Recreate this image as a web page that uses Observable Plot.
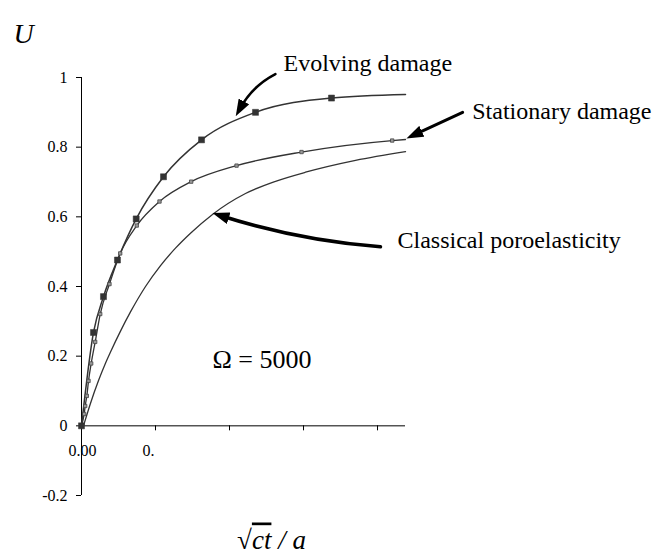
<!DOCTYPE html>
<html><head><meta charset="utf-8">
<script src="https://cdn.jsdelivr.net/npm/d3@7"></script>
<script src="https://cdn.jsdelivr.net/npm/@observablehq/plot@0.6"></script>
<style>
body{margin:0;background:#fff;}
#chart{width:662px;height:554px;}
</style></head><body><div id="chart"></div>
<script>
// ---- data (x = sqrt(ct)/a in tick units, U) ----
const evolvingX = [0, 0.162, 0.297, 0.486, 0.739, 1.108, 1.622, 2.351, 3.378, 4.378];
const evolvingU = [0, 0.268, 0.371, 0.476, 0.594, 0.715, 0.821, 0.900, 0.941, 0.951];
const stationaryX = [0, 0.036, 0.050, 0.072, 0.095, 0.131, 0.185, 0.253, 0.378, 0.523, 0.747, 1.054, 1.482, 2.095, 2.973, 4.198, 4.378];
const stationaryU = [0, 0.034, 0.057, 0.086, 0.129, 0.179, 0.241, 0.321, 0.407, 0.495, 0.575, 0.644, 0.701, 0.747, 0.786, 0.819, 0.822];
const classicalX = [0.027, 0.122, 0.230, 0.324, 0.392, 0.527, 0.662, 0.865, 1.068, 1.270, 1.473, 1.770, 2.216, 2.622, 3.027, 3.703, 4.378];
const classicalU = [0, 0.065, 0.130, 0.180, 0.212, 0.272, 0.327, 0.400, 0.460, 0.510, 0.553, 0.607, 0.667, 0.702, 0.728, 0.762, 0.787];

const xTicks = [0, 1, 2, 3, 4];
const xTickLabels = ["0.00", "0.", "", "", ""];
const yTicks = [-0.2, 0, 0.2, 0.4, 0.6, 0.8, 1];
const yTickLabels = ["-0.2", "0", "0.2", "0.4", "0.6", "0.8", "1"];
const xDomain = [0, 4.378];
const yDomain = [-0.2, 1];

const labelText = ["Evolving damage", "Stationary damage", "Classical poroelasticity"];
const labelX = [2.73, 5.28, 4.27];
const labelU = [1.04, 0.902, 0.532];
const omegaSymbol = "\u03A9";
const omegaValue = "= 5000";
const omegaX = [1.77];
const omegaU = [0.19];

const arrowX1 = [2.62, 5.15, 4.04];
const arrowU1 = [1.01, 0.90, 0.514];
const arrowX2 = [2.09, 4.39, 1.77];
const arrowU2 = [0.888, 0.825, 0.611];
const arrowBend = [-20, 0, 7];

// ---- tables ----
const toRows = (X, U) => X.map((x, i) => ({x, u: U[i]}));
const evolving = toRows(evolvingX, evolvingU);
const stationary = toRows(stationaryX, stationaryU);
const classical = toRows(classicalX, classicalU);
const labels = labelText.map((t, i) => ({t, x: labelX[i], u: labelU[i]}));
const omegaLabel = omegaSymbol + " " + omegaValue;
const omega = [{t: omegaLabel, x: omegaX[0], u: omegaU[0]}];
const arrows = arrowX1.map((x1, i) => ({x1, y1: arrowU1[i], x2: arrowX2[i], y2: arrowU2[i]}));

const ink = "#333";
const font = "'Liberation Serif', 'Times New Roman', serif";

const plot = Plot.plot({
  width: 662, height: 554,
  marginLeft: 81, marginRight: 257, marginTop: 77, marginBottom: 59,
  x: {domain: xDomain, axis: null},
  y: {domain: yDomain, axis: null},
  style: {fontFamily: font, fontSize: "16px", background: "white", color: "black", overflow: "visible"},
  marks: [
    Plot.ruleX([0], {y1: yDomain[0], y2: yDomain[1], stroke: "black", strokeWidth: 1}),
    Plot.ruleY([0], {x1: xDomain[0], x2: xDomain[1], stroke: "black", strokeWidth: 1}),
    Plot.ruleX(xTicks, {y1: 0, y2: 0, insetBottom: -5, stroke: "black", strokeWidth: 1}),
    Plot.text(xTicks, {x: d => d, y: 0, text: d => xTickLabels[xTicks.indexOf(d)], textAnchor: "start", dx: -13, dy: 25, fontSize: 16, fill: "black", fontFamily: font}),
    Plot.axisY({ticks: yTicks, tickFormat: d => yTickLabels[yTicks.indexOf(d)], tickSize: 5, tickPadding: 9, fontSize: 16, label: null, fontFamily: font}),
    Plot.line(classical, {x: "x", y: "u", stroke: ink, strokeWidth: 1.3, curve: "monotone-x"}),
    Plot.line(stationary, {x: "x", y: "u", stroke: ink, strokeWidth: 1.3, curve: "monotone-x"}),
    Plot.line(evolving, {x: "x", y: "u", stroke: ink, strokeWidth: 1.5, curve: "monotone-x"}),
    Plot.dot(stationary.slice(0, -1), {x: "x", y: "u", symbol: "square", r: 1.9, fill: "#999", stroke: "#444", strokeWidth: 0.8}),
    Plot.dot(evolving.slice(0, -1), {x: "x", y: "u", symbol: "square", r: 3.4, fill: ink, stroke: ink, strokeWidth: 0.5}),
    Plot.arrow([arrows[0]], {x1: "x1", y1: "y1", x2: "x2", y2: "y2", bend: arrowBend[0], stroke: "black", strokeWidth: 2.5, headLength: 0, insetEnd: 9}),
    Plot.arrow([arrows[1]], {x1: "x1", y1: "y1", x2: "x2", y2: "y2", bend: arrowBend[1], stroke: "black", strokeWidth: 3, headLength: 0, insetEnd: 9}),
    Plot.arrow([arrows[2]], {x1: "x1", y1: "y1", x2: "x2", y2: "y2", bend: arrowBend[2], stroke: "black", strokeWidth: 3.5, headLength: 0, insetEnd: 9}),
    Plot.text(labels, {x: "x", y: "u", text: "t", textAnchor: "start", fontSize: 24, fill: "black", fontFamily: font}),
    Plot.text(omega, {x: "x", y: "u", text: "t", textAnchor: "start", fontSize: 26, fill: "black", fontFamily: font}),
    Plot.text(["U"], {frameAnchor: "top-left", dx: -68, dy: -54, textAnchor: "start", fontSize: 28, fontStyle: "italic", fill: "black", fontFamily: font}),
    Plot.text(["√ct / a"], {frameAnchor: "bottom", dx: 28, dy: 53, lineAnchor: "bottom", fontSize: 27, fontStyle: "italic", fill: "black", fontFamily: font})
  ]
});

// filled arrowheads
const svg = d3.select(plot);
svg.append("defs").append("marker")
  .attr("id", "ahead").attr("viewBox", "0 0 17 12")
  .attr("refX", 8).attr("refY", 6)
  .attr("markerWidth", 17).attr("markerHeight", 12)
  .attr("markerUnits", "userSpaceOnUse").attr("orient", "auto")
  .append("path").attr("d", "M0,0L17,6L0,12Z").attr("fill", "black").attr("stroke", "none");
svg.selectAll('g[aria-label="arrow"] path').each(function() {
  const p = d3.select(this);
  const d = p.attr("d") || "";
  const k = d.indexOf("M", 1);
  p.attr("d", k > 0 ? d.slice(0, k) : d).attr("marker-end", "url(#ahead)").attr("fill", "none");
});
// radical overline on x label
svg.selectAll("text").filter(function() { return this.textContent === "√ct / a"; }).each(function() {
  const t = d3.select(this);
  t.text("");
  t.append("tspan").attr("font-style", "normal").text("√");
  t.append("tspan").style("text-decoration", "overline").text("ct");
  t.append("tspan").text(" / a");
});
// Omega label: symbol and value as separate serif runs
svg.selectAll("text").filter(function() { return this.textContent === omegaLabel; }).each(function() {
  const t = d3.select(this);
  t.text("");
  t.append("tspan").style("font-family", "'Liberation Serif', 'DejaVu Serif', serif").text(omegaSymbol + " ");
  t.append("tspan").style("font-family", "'Liberation Serif'").text(omegaValue);
});

document.getElementById("chart").appendChild(plot);
</script>
</body></html>
